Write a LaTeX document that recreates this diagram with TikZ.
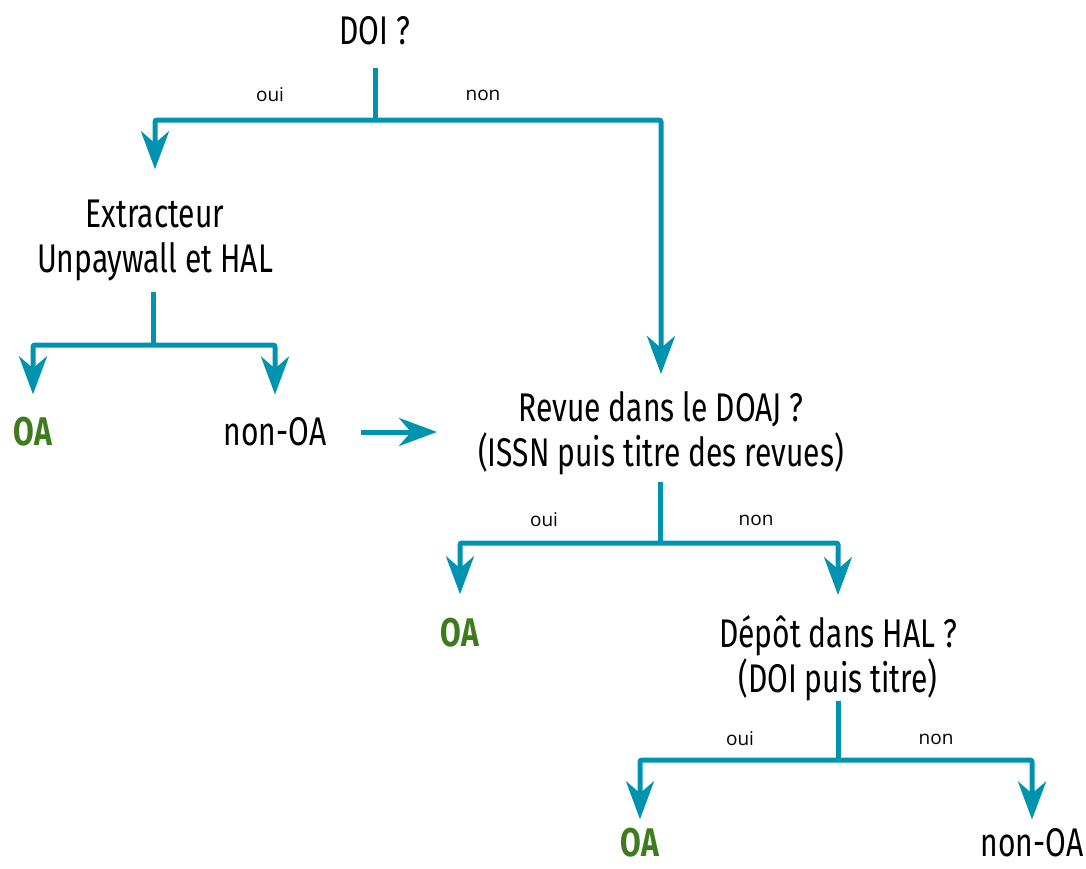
\documentclass[tikz,border=0pt]{standalone}
\usepackage{fontspec}
\setmainfont[FakeStretch=0.75]{Fira Sans}
\newfontfamily\labelfont{Open Sans}
\usetikzlibrary{arrows.meta}
\definecolor{flowteal}{HTML}{0093AF}
\definecolor{oagreen}{HTML}{3E7B1E}

\begin{document}
\begin{tikzpicture}[x=1pt,y=-1pt,
	txt/.style={font=\fontsize{40}{45}\selectfont,align=center,inner sep=0pt},
	oa/.style={font=\fontsize{40}{45}\selectfont\bfseries,text=oagreen,inner sep=0pt},
	lbl/.style={font=\labelfont\fontsize{19}{22}\selectfont,inner sep=0pt},
	stem/.style={draw=flowteal,line width=5pt},
	branch/.style={draw=flowteal,line width=5pt,rounded corners=2pt,
		-{Stealth[length=38pt,width=28pt,inset=12pt]}},
	]
	\useasboundingbox (0,0) rectangle (1086,868);
	
	% questions and outcomes
	\node[txt] (doi) at (375,31) {DOI ?};
	\node[txt] (extr) at (155,240) {Extracteur\\Unpaywall et HAL};
	\node[oa] (oaA) at (33,432) {OA};
	\node[txt] (nonoaA) at (275,432) {non-OA};
	\node[txt] (revue) at (661,433) {Revue dans le DOAJ ?\\(ISSN puis titre des revues)};
	\node[oa] (oaB) at (460,633) {OA};
	\node[txt] (depot) at (838,658) {Dépôt dans HAL ?\\(DOI puis titre)};
	\node[oa] (oaC) at (640,843) {OA};
	\node[txt] (nonoaC) at (1032,843) {non-OA};
	
	% junctions
	\coordinate (j1) at (375,120);
	\coordinate (j2) at (153,345);
	\coordinate (j3) at (660,543);
	\coordinate (j4) at (838,760);
	
	% DOI ?
	\draw[stem,shorten <=23pt] (doi) -- (j1);
	\draw[branch,shorten >=30pt] (j1) -| (extr);
	\draw[branch,shorten >=17pt] (j1) -| (revue);
	\node[lbl] (oui1) at (270,95) {oui};
	\node[lbl] (non1) at (483,95) {non};
	
	% extracteur
	\draw[stem,shorten <=11pt] (extr.south -| j2) -- (j2);
	\draw[branch,shorten >=23pt] (j2) -| (oaA);
	\draw[branch,shorten >=23pt] (j2) -| (nonoaA);
	\draw[branch,shorten <=35pt,shorten >=41pt] (nonoaA.east) -- (nonoaA.east -| revue.west);
	
	% DOAJ
	\draw[stem,shorten <=7pt] (revue.south -| j3) -- (j3);
	\draw[branch,shorten >=24pt] (j3) -| (oaB);
	\draw[branch,shorten >=20pt] (j3) -| (depot);
	\node[lbl] (oui2) at (544,520) {oui};
	\node[lbl] (non2) at (756,520) {non};
	
	% HAL
	\draw[stem] (depot) -- (j4);
	\draw[branch,shorten >=9pt] (j4) -| (oaC);
	\draw[branch,shorten >=9pt] (j4) -| (nonoaC);
	\node[lbl] (oui3) at (740,739) {oui};
	\node[lbl] (non3) at (936,739) {non};
\end{tikzpicture}
\end{document}
